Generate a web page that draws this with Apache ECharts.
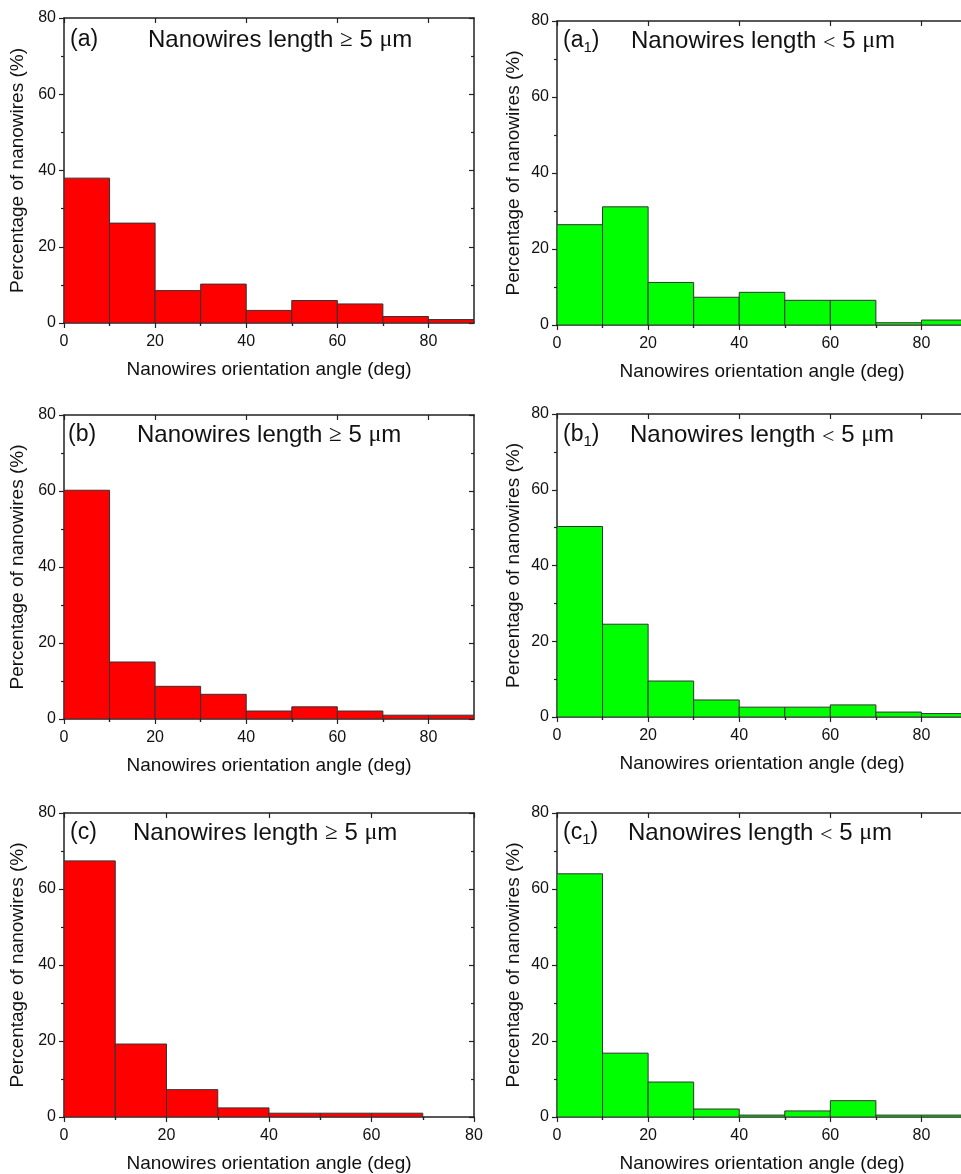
<!DOCTYPE html>
<html>
<head>
<meta charset="utf-8">
<script src="https://cdn.jsdelivr.net/npm/echarts@6/dist/echarts.min.js"></script>
<style>
  html, body { margin: 0; padding: 0; background: #fff; }
  #chart { width: 961px; height: 1174px; }
</style>
</head>
<body>
<div id="chart"></div>
<script>
// bin starts (deg), each bin 10 deg wide
var binStarts = [0, 10, 20, 30, 40, 50, 60, 70, 80];
var binWidth = 10;

// percentage of nanowires in each bin
var valuesA  = [38.0, 26.2, 8.5, 10.2, 3.3, 5.9, 5.0, 1.7, 0.9];
var valuesA1 = [26.4, 31.1, 11.2, 7.3, 8.6, 6.5, 6.5, 0.6, 1.3];
var valuesB  = [60.2, 15.0, 8.6, 6.5, 2.1, 3.2, 2.1, 1.0, 1.0];
var valuesB1 = [50.3, 24.5, 9.5, 4.5, 2.6, 2.6, 3.2, 1.3, 0.9];
var valuesC  = [67.4, 19.2, 7.2, 2.4, 1.0, 1.0, 1.0];
var valuesC1 = [64.0, 16.8, 9.2, 2.1, 0.5, 1.6, 4.3, 0.5, 0.5];

// tick labels
var xMajorTicks = [0, 20, 40, 60, 80];
var xMinorTicks = [10, 30, 50, 70];
var yTicks = [0, 20, 40, 60, 80];

var labelFont = 'Arial, "Liberation Sans", sans-serif';
var serifFont = '"Liberation Serif", "DejaVu Serif", serif';
var axisColor = '#222';
var red = '#ff0000';
var green = '#00ff00';

// panel layout: grid rect, x max, colour, labels
var panels = [
  { vals: valuesA,  color: red,   xMax: 90, left: 64,  top: 18,  height: 305, nameGapY: 37,
    tag: '(a)', tagX: 70, textX: 148, titleY: 40, sym: '≥' },
  { vals: valuesA1, color: green, xMax: 90, left: 557, top: 21,  height: 304, nameGapY: 34,
    tag: '(a{s|1})', tagX: 563, textX: 631, titleY: 41, sym: '<' },
  { vals: valuesB,  color: red,   xMax: 90, left: 64,  top: 415, height: 304, nameGapY: 37,
    tag: '(b)', tagX: 68, textX: 137, titleY: 435, sym: '≥' },
  { vals: valuesB1, color: green, xMax: 90, left: 557, top: 414, height: 303, nameGapY: 34,
    tag: '(b{s|1})', tagX: 563, textX: 630, titleY: 435, sym: '<' },
  { vals: valuesC,  color: red,   xMax: 80, left: 64,  top: 813, height: 304, nameGapY: 37,
    tag: '(c)', tagX: 70, textX: 133, titleY: 833, sym: '≥' },
  { vals: valuesC1, color: green, xMax: 90, left: 557, top: 813, height: 304, nameGapY: 34,
    tag: '(c{s|1})', tagX: 563, textX: 628, titleY: 833, sym: '<' }
];

function renderBin(params, api) {
  var p0 = api.coord([api.value(0), api.value(2)]);
  var p1 = api.coord([api.value(1), 0]);
  return {
    type: 'rect',
    shape: { x: p0[0], y: p0[1], width: p1[0] - p0[0], height: p1[1] - p0[1] },
    style: { fill: api.visual('color'), stroke: '#333', lineWidth: 1 }
  };
}

var grids = [], xAxes = [], yAxes = [], series = [], graphics = [];

panels.forEach(function(p, gi) {
  // the right column runs past the page edge, as in the source figure
  grids.push({ left: p.left, top: p.top, width: 410, height: p.height, outerBoundsMode: 'none', containLabel: false });

  var line = { show: true, onZero: false, lineStyle: { color: axisColor, width: 1.5 } };
  var noLine = { show: false };
  var tickStyle = { color: axisColor, width: 1.2 };
  var xBase = { type: 'value', gridIndex: gi, min: 0, max: p.xMax, interval: 20, splitLine: { show: false } };

  var xStart = xAxes.length;
  xAxes.push(Object.assign({}, xBase, {
    position: 'bottom', axisLine: line,
    axisTick: { show: true, customValues: xMajorTicks, length: 5, lineStyle: tickStyle },
    axisLabel: { customValues: xMajorTicks, margin: 11, color: '#111', fontSize: 16, fontFamily: labelFont },
    name: 'Nanowires orientation angle (deg)', nameLocation: 'middle', nameGap: 37,
    nameTextStyle: { color: '#111', fontSize: 19, fontFamily: labelFont }
  }));
  xAxes.push(Object.assign({}, xBase, {
    position: 'bottom', axisLine: noLine, interval: 10,
    axisTick: { show: true, customValues: xMinorTicks, length: 3, lineStyle: tickStyle },
    axisLabel: { show: false }
  }));
  xAxes.push(Object.assign({}, xBase, {
    position: 'top', axisLine: line,
    axisTick: { show: true, inside: true, customValues: xMajorTicks, length: 5, lineStyle: tickStyle },
    axisLabel: { show: false }
  }));
  xAxes.push(Object.assign({}, xBase, {
    position: 'top', axisLine: noLine, interval: 10,
    axisTick: { show: true, inside: true, customValues: xMinorTicks, length: 3, lineStyle: tickStyle },
    axisLabel: { show: false }
  }));

  var yStart = yAxes.length;
  var yBase = { type: 'value', gridIndex: gi, min: 0, max: 80, interval: 20, splitLine: { show: false } };
  yAxes.push(Object.assign({}, yBase, {
    position: 'left', axisLine: line,
    axisTick: { show: true, length: 5, lineStyle: tickStyle },
    minorTick: { show: true, splitNumber: 2, length: 3, lineStyle: tickStyle },
    axisLabel: { customValues: yTicks, margin: 8, color: '#111', fontSize: 16, fontFamily: labelFont },
    name: 'Percentage of nanowires (%)', nameLocation: 'middle', nameGap: p.nameGapY,
    nameTextStyle: { color: '#111', fontSize: 19, fontFamily: labelFont }
  }));
  yAxes.push(Object.assign({}, yBase, {
    position: 'right', axisLine: line,
    axisTick: { show: true, inside: true, length: 5, lineStyle: tickStyle },
    minorTick: { show: true, splitNumber: 2, length: 3, lineStyle: tickStyle },
    axisLabel: { show: false }
  }));

  series.push({
    type: 'custom',
    xAxisIndex: xStart,
    yAxisIndex: yStart,
    renderItem: renderBin,
    itemStyle: { color: p.color },
    encode: { x: [0, 1], y: 2 },
    clip: true,
    data: p.vals.map(function(v, i) {
      return [binStarts[i], binStarts[i] + binWidth, v];
    })
  });

  // panel label and title text inside the frame
  graphics.push({
    type: 'text', x: p.tagX, y: p.titleY, z: 10,
    style: {
      text: p.tag, fill: '#111', fontSize: 23, fontFamily: labelFont, verticalAlign: 'middle',
      rich: { s: { fontSize: 15, fontFamily: labelFont, fill: '#111', padding: [13, 0, 0, 0] } }
    }
  });
  graphics.push({
    type: 'text', x: p.textX, y: p.titleY, z: 10,
    style: {
      text: 'Nanowires length {sym|' + p.sym + '} 5 {mu|μ}m',
      fill: '#111', fontSize: 24, fontFamily: labelFont, verticalAlign: 'middle',
      rich: {
        sym: { fontSize: p.sym === '<' ? 22 : 23, fontFamily: serifFont, fill: '#111',
               padding: p.sym === '<' ? [4, 0, 0, 0] : 0 },
        mu: { fontSize: 24, fontFamily: serifFont, fill: '#111' }
      }
    }
  });
});

var myChart = echarts.init(document.getElementById('chart'));
myChart.setOption({
  backgroundColor: '#fff',
  animation: false,
  grid: grids,
  xAxis: xAxes,
  yAxis: yAxes,
  series: series,
  graphic: graphics
});
</script>
</body>
</html>
